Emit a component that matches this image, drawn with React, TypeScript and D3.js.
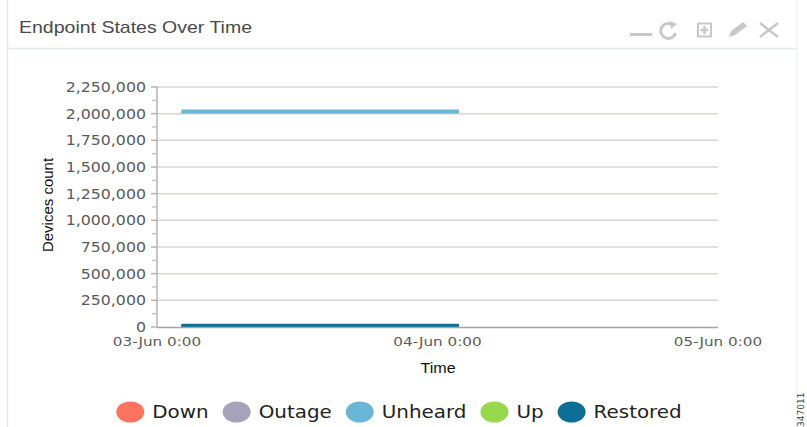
import React from 'react'
import * as d3 from 'd3'

// data
const seriesNames = ['Down', 'Outage', 'Unheard', 'Up', 'Restored']
const seriesColors = ['#fd735f', '#a7a2bb', '#6ab6d7', '#98d84c', '#0e6f96']
const timeStamps = [
  '03-Jun 02:05', '03-Jun 04:05', '03-Jun 06:05', '03-Jun 08:05', '03-Jun 10:05',
  '03-Jun 12:05', '03-Jun 14:05', '03-Jun 16:05', '03-Jun 18:05', '03-Jun 20:05',
  '03-Jun 22:05', '04-Jun 00:05', '04-Jun 01:50',
]
const downValues = [0, 0, 0, 0, 0, 0, 0, 0, 0, 0, 0, 0, 0]
const outageValues = [0, 0, 0, 0, 0, 0, 0, 0, 0, 0, 0, 0, 0]
const unheardValues = [2020000, 2020000, 2020000, 2020000, 2020000, 2020000, 2020000, 2020000, 2020000, 2020000, 2020000, 2020000, 2020000]
const upValues = [0, 0, 0, 0, 0, 0, 0, 0, 0, 0, 0, 0, 0]
const restoredValues = [14000, 14000, 14000, 14000, 14000, 14000, 14000, 14000, 14000, 14000, 14000, 14000, 14000]
const xTickLabels = ['03-Jun 0:00', '04-Jun 0:00', '05-Jun 0:00']
const yMax = 2250000
const yStep = 250000

const W = 807
const H = 427
const SX = 1.17 // the reference is stretched horizontally

const parseTime = d3.timeParse('%d-%b %H:%M')

function T({ x, y, sx = SX, anchor = 'start', size = 13, family = 'DejaVu Sans', fill = '#555', children, rotate = 0 }: any) {
  const tf = rotate
    ? `translate(${x},${y}) rotate(${rotate})`
    : `translate(${x},${y}) scale(${sx},1)`
  return (
    <text transform={tf} textAnchor={anchor} fontSize={size} fontFamily={family} fill={fill}>
      {children}
    </text>
  )
}

function measure(text: string, font: string) {
  const c = document.createElement('canvas').getContext('2d')
  if (!c) return text.length * 9
  c.font = font
  return c.measureText(text).width
}

export default function App() {
  const left = 157
  const right = 718
  const top = 87
  const bottom = 327

  const xTickDates = xTickLabels.map((s) => parseTime(s.replace(' 0:00', ' 00:00')) as Date)
  const x = d3.scaleTime().domain([xTickDates[0], xTickDates[2]]).range([left, right])
  const y = d3.scaleLinear().domain([0, yMax]).range([bottom, top])
  const yTicks = d3.range(0, yMax + 1, yStep)
  const yMinor = d3.range(yStep / 2, yMax, yStep)
  const fmt = d3.format(',')

  const dates = timeStamps.map((s) => parseTime(s) as Date)
  const allValues = [downValues, outageValues, unheardValues, upValues, restoredValues]
  const line = d3.line<number>()
    .x((_, i) => x(dates[i]))
    .y((v) => y(v))

  // draw order: zero series first, then Unheard, then Restored on top
  const drawOrder = [0, 1, 3, 2, 4]

  // legend layout
  const legendFont = '17px "DejaVu Sans"'
  const rx = 14
  const gapText = 8
  const gapItem = 14
  const widths = seriesNames.map((n) => measure(n, legendFont) * SX)
  const total = widths.reduce((a, w) => a + w + rx * 2 + gapText, 0) + gapItem * (seriesNames.length - 1)
  let cursor = 399 - total / 2
  const legendItems = seriesNames.map((n, i) => {
    const item = { name: n, color: seriesColors[i], cx: cursor + rx, tx: cursor + rx * 2 + gapText }
    cursor += rx * 2 + gapText + widths[i] + gapItem
    return item
  })

  const iconColor = '#c8c8c8'

  return (
    <svg width={W} height={H} style={{ position: 'absolute', left: 0, top: 0, background: '#fff' }}>
      <defs>
        <clipPath id="plot">
          <rect x={left} y={top - 10} width={right - left} height={bottom - top + 10} />
        </clipPath>
      </defs>
      <rect x={0} y={0} width={W} height={H} fill="#fff" />

      {/* panel frame */}
      <line x1={7.5} y1={0} x2={7.5} y2={H} stroke="#e6e8e8" strokeWidth={1.5} />
      <line x1={797} y1={0} x2={797} y2={H} stroke="#eceeee" strokeWidth={1} />
      <line x1={7} y1={48.5} x2={797} y2={48.5} stroke="#e6eaea" strokeWidth={1.5} />
      <T x={19} y={33} size={16} family="Liberation Sans" fill="#4a4a4a" sx={1.22}>Endpoint States Over Time</T>

      {/* header icons */}
      <line x1={630} y1={34.5} x2={652} y2={34.5} stroke={iconColor} strokeWidth={3} />
      <path d="M674,26 A7.5,7.5 0 1 0 675.5,33" fill="none" stroke={iconColor} strokeWidth={3} />
      <path d="M670,21 L677,24 L671,29 Z" fill={iconColor} />
      <rect x={698} y={23.5} width={13} height={13} fill="none" stroke={iconColor} strokeWidth={2} />
      <path d="M704.5,26 V34 M700.5,30 H708.5" stroke={iconColor} strokeWidth={2.5} />
      <path d="M729,37 L731,31 L743,22 L747,26 L735,35 Z" fill={iconColor} />
      <path d="M760,23 L778,37 M778,23 L760,37" stroke={iconColor} strokeWidth={2.5} />

      {/* gridlines */}
      {yTicks.filter((t) => t > 0).map((t) => (
        <line key={t} x1={left} x2={right} y1={y(t)} y2={y(t)} stroke="#d6d6d0" strokeWidth={1.5} />
      ))}

      {/* y axis */}
      <line x1={left} x2={left} y1={top} y2={bottom} stroke="#b4b4b4" strokeWidth={1.5} />
      {yTicks.map((t) => (
        <line key={'M' + t} x1={left - 6} x2={left} y1={y(t)} y2={y(t)} stroke="#b4b4b4" strokeWidth={1.5} />
      ))}
      {yMinor.map((t) => (
        <line key={'m' + t} x1={left - 5} x2={left} y1={y(t)} y2={y(t)} stroke="#c4c4c4" strokeWidth={1.5} />
      ))}
      {yTicks.map((t) => (
        <T key={'l' + t} x={146} y={y(t) + 5} anchor="end" size={13.5} fill="#5a5a5a">{fmt(t)}</T>
      ))}

      {/* series */}
      <g clipPath="url(#plot)">
        {drawOrder.map((si) => (
          <path key={si} d={line(allValues[si]) || ''} fill="none" stroke={seriesColors[si]} strokeWidth={si === 4 ? 3.5 : 4} />
        ))}
      </g>

      {/* x axis */}
      <line x1={left} x2={right} y1={bottom + 0.5} y2={bottom + 0.5} stroke="#a4a4a4" strokeWidth={1.5} />
      {xTickDates.map((d, i) => (
        <T key={i} x={x(d)} y={346} anchor="middle" size={13} fill="#5a5a5a">{xTickLabels[i]}</T>
      ))}

      <T x={438} y={373} anchor="middle" size={14} family="Liberation Sans" fill="#111" sx={1.15}>Time</T>
      <T x={53} y={205} anchor="middle" size={15} family="Liberation Sans" fill="#111" rotate={-90}>Devices count</T>

      {/* legend */}
      {legendItems.map((it) => (
        <g key={it.name}>
          <ellipse cx={it.cx} cy={412} rx={rx} ry={10.5} fill={it.color} />
          <T x={it.tx} y={418} size={17} fill="#222">{it.name}</T>
        </g>
      ))}

      <T x={804} y={427} size={9} fill="#444" rotate={-90}>347011</T>
    </svg>
  )
}
